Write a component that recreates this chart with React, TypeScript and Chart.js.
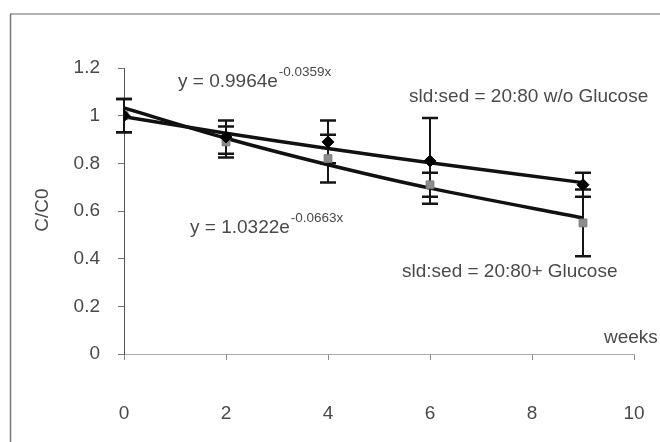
import React, { useEffect, useRef } from "react";
import { Chart, registerables } from "chart.js";

Chart.register(...registerables);

// ---- data ----
const weeks = [0, 2, 4, 6, 9];
const woGlucose = [1.0, 0.91, 0.89, 0.81, 0.71];
const woGlucoseErr = [0.07, 0.07, 0.09, 0.18, 0.05];
const withGlucose = [1.0, 0.89, 0.82, 0.71, 0.55];
const withGlucoseErr = [0.07, 0.065, 0.1, 0.05, 0.14];
const trendWeeks = [0, 2, 4, 6, 9];
const woTrend = [0.996, 0.926, 0.862, 0.802, 0.719];
const withTrend = [1.032, 0.905, 0.794, 0.696, 0.571];
const xTicks = [0, 2, 4, 6, 8, 10];
const yTicks = [0, 0.2, 0.4, 0.6, 0.8, 1, 1.2];

const FONT = "'Liberation Sans', Arial, sans-serif";
const TEXT = "#4a4a4a";

const errorBars = {
  id: "errorBars",
  beforeDatasetsDraw(chart: any) {
    const { ctx, scales } = chart;
    const xs = scales.x;
    const ys = scales.y;
    chart.data.datasets.forEach((ds: any) => {
      const errs = ds.errors;
      if (!errs) return;
      ds.data.forEach((p: any, j: number) => {
        const px = xs.getPixelForValue(p.x);
        const top = ys.getPixelForValue(p.y + errs[j]);
        const bot = ys.getPixelForValue(p.y - errs[j]);
        ctx.save();
        ctx.strokeStyle = "#151515";
        ctx.lineWidth = 2;
        ctx.beginPath();
        ctx.moveTo(px, top);
        ctx.lineTo(px, bot);
        ctx.stroke();
        ctx.lineWidth = 2.5;
        ctx.beginPath();
        ctx.moveTo(px - 8, top);
        ctx.lineTo(px + 8, top);
        ctx.moveTo(px - 8, bot);
        ctx.lineTo(px + 8, bot);
        ctx.stroke();
        ctx.restore();
      });
    });
  },
};

function supText(ctx: CanvasRenderingContext2D, base: string, sup: string, x: number, y: number) {
  ctx.font = `19px ${FONT}`;
  ctx.textAlign = "left";
  ctx.textBaseline = "middle";
  ctx.fillText(base, x, y);
  const w = ctx.measureText(base).width;
  ctx.font = `13.5px ${FONT}`;
  ctx.fillText(sup, x + w + 1, y - 10);
}

const decorations = {
  id: "decorations",
  beforeDraw(chart: any) {
    const { ctx } = chart;
    ctx.save();
    ctx.fillStyle = "#ffffff";
    ctx.fillRect(0, 0, chart.width, chart.height);
    ctx.strokeStyle = "#9a9a9a";
    ctx.lineWidth = 1.5;
    ctx.beginPath();
    ctx.moveTo(10, 14);
    ctx.lineTo(660, 14);
    ctx.stroke();
    ctx.strokeStyle = "#777";
    ctx.beginPath();
    ctx.moveTo(10.5, 14);
    ctx.lineTo(10.5, 442);
    ctx.stroke();
    ctx.restore();
  },
  afterDraw(chart: any) {
    const { ctx } = chart;
    ctx.save();
    ctx.fillStyle = TEXT;
    ctx.save();
    ctx.translate(43, 210);
    ctx.rotate(-Math.PI / 2);
    ctx.font = `19px ${FONT}`;
    ctx.textAlign = "center";
    ctx.textBaseline = "middle";
    ctx.fillText("C/C0", 0, 0);
    ctx.restore();
    ctx.font = `19px ${FONT}`;
    ctx.textAlign = "left";
    ctx.textBaseline = "middle";
    ctx.fillText("weeks", 604, 338);
    ctx.fillText("sld:sed = 20:80 w/o Glucose", 409, 97);
    ctx.fillText("sld:sed = 20:80+ Glucose", 402, 272);
    supText(ctx, "y = 0.9964e", "-0.0359x", 178, 82);
    supText(ctx, "y = 1.0322e", "-0.0663x", 190, 228);
    ctx.restore();
  },
};

export default function App() {
  const ref = useRef<HTMLCanvasElement | null>(null);

  useEffect(() => {
    if (!ref.current) return;
    const chart = new Chart(ref.current, {
      type: "scatter",
      data: {
        datasets: [
          {
            label: "sld:sed = 20:80 w/o Glucose",
            data: weeks.map((w, i) => ({ x: w, y: woGlucose[i] })),
            errors: woGlucoseErr,
            pointStyle: "rectRot",
            pointRadius: 6,
            backgroundColor: "#000",
            borderColor: "#000",
            borderWidth: 1,
            showLine: false,
          } as any,
          {
            label: "sld:sed = 20:80+ Glucose",
            data: weeks.map((w, i) => ({ x: w, y: withGlucose[i] })),
            errors: withGlucoseErr,
            pointStyle: "rect",
            pointRadius: 5.5,
            backgroundColor: "#8c8c8c",
            borderColor: "#7a7a7a",
            borderWidth: 1,
            showLine: false,
          } as any,
          {
            label: "trend w/o",
            data: trendWeeks.map((w, i) => ({ x: w, y: woTrend[i] })),
            showLine: true,
            pointRadius: 0,
            borderColor: "#111",
            borderWidth: 3.5,
            tension: 0.3,
          },
          {
            label: "trend with",
            data: trendWeeks.map((w, i) => ({ x: w, y: withTrend[i] })),
            showLine: true,
            pointRadius: 0,
            borderColor: "#111",
            borderWidth: 3.5,
            tension: 0.3,
          },
        ],
      },
      options: {
        responsive: false,
        animation: false,
        layout: { padding: { left: 0, right: 26, top: 68, bottom: 0 } },
        plugins: { legend: { display: false }, tooltip: { enabled: false } },
        scales: {
          x: {
            type: "linear",
            min: 0,
            max: 10,
            afterBuildTicks: (s: any) => {
              s.ticks = xTicks.map((v) => ({ value: v }));
            },
            afterFit: (s: any) => {
              s.height = 88;
              s.paddingLeft = 0;
              s.paddingRight = 0;
            },
            grid: { drawOnChartArea: false, drawTicks: true, tickLength: 6, tickColor: "#8a8a8a" },
            border: { color: "#a8a8a8", width: 1, dash: [6, 3] },
            ticks: {
              padding: 42,
              color: TEXT,
              font: { family: FONT, size: 19 },
              maxRotation: 0,
              autoSkip: false,
            },
          },
          y: {
            type: "linear",
            min: 0,
            max: 1.2,
            afterBuildTicks: (s: any) => {
              s.ticks = yTicks.map((v) => ({ value: v }));
            },
            afterFit: (s: any) => {
              s.width = 124;
            },
            grid: { drawOnChartArea: false, drawTicks: true, tickLength: 6, tickColor: "#777" },
            border: { color: "#555", width: 1 },
            ticks: {
              padding: 18,
              color: TEXT,
              font: { family: FONT, size: 19 },
              callback: (v: any) => String(Math.round(Number(v) * 10) / 10),
            },
          },
        },
      },
      plugins: [decorations, errorBars],
    } as any);
    return () => chart.destroy();
  }, []);

  return (
    <div style={{ position: "absolute", left: 0, top: 0, width: 660, height: 442 }}>
      <canvas ref={ref} width={660} height={442} />
    </div>
  );
}
